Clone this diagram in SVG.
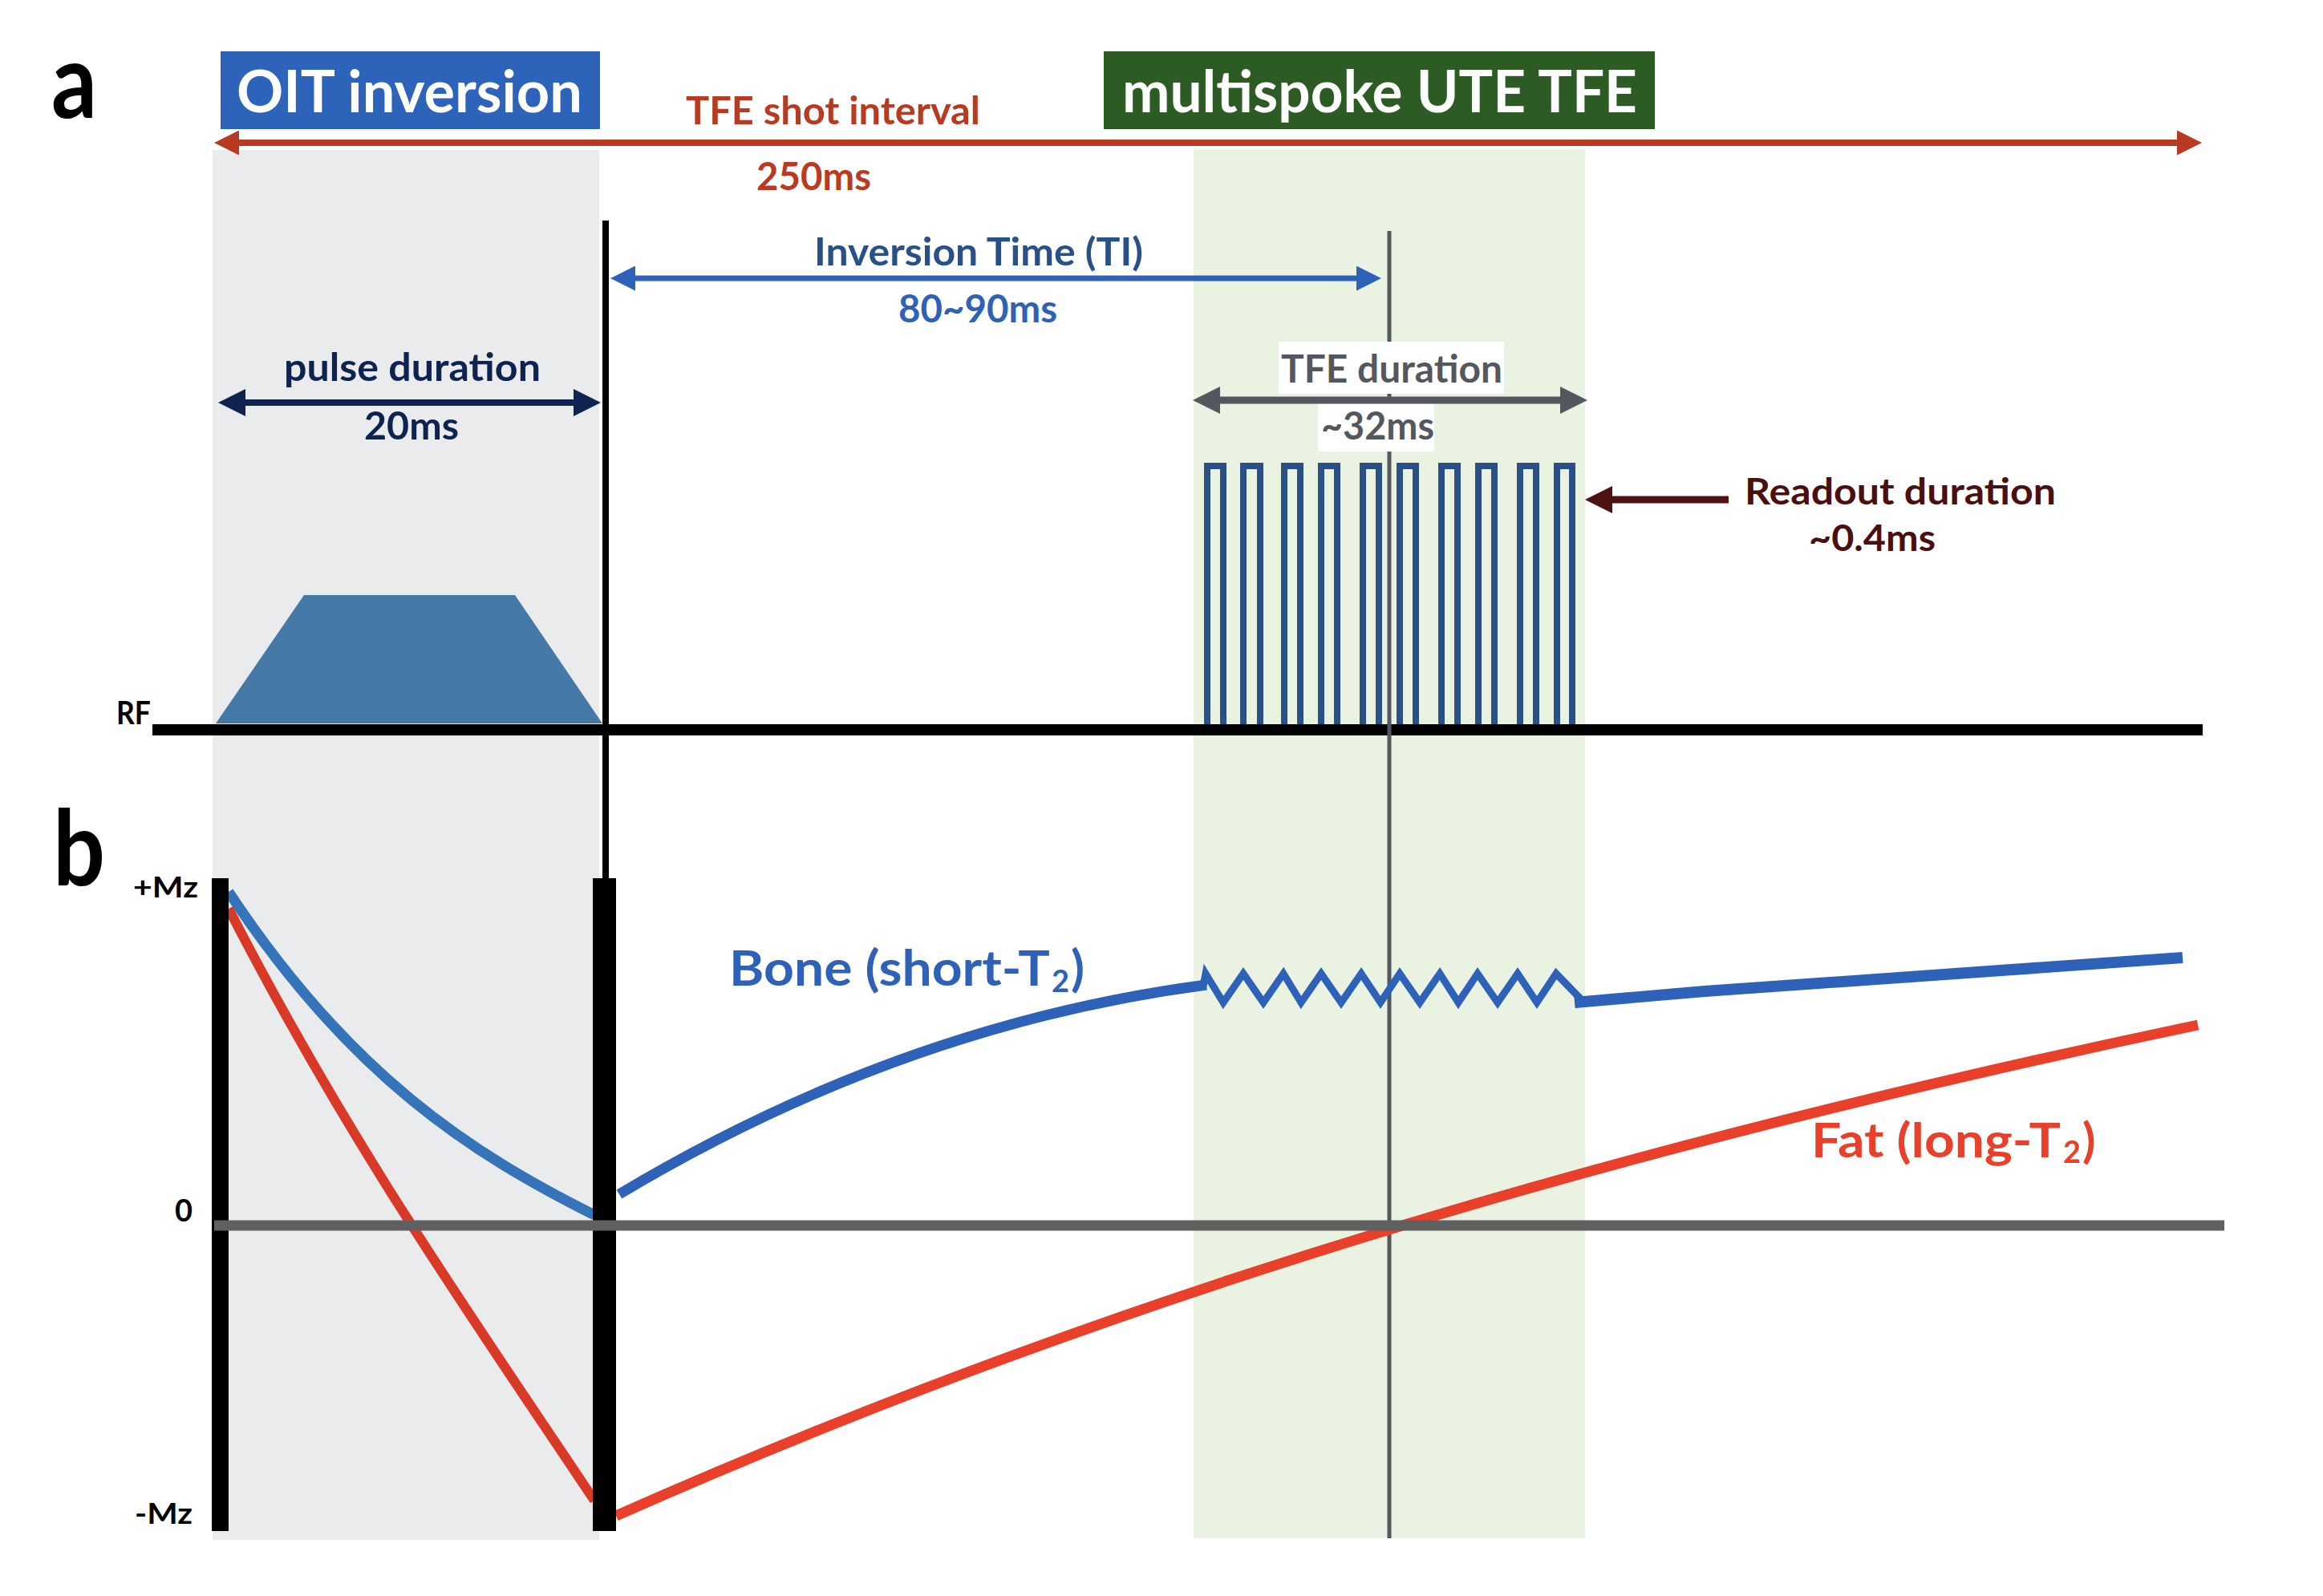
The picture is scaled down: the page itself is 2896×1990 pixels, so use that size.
<svg xmlns="http://www.w3.org/2000/svg" width="2896" height="1990" viewBox="0 0 2896 1990">
<style>
.t{font-family:Lato,"Liberation Sans",sans-serif;font-weight:bold}
.ln{fill:none;stroke-linecap:butt}
</style>
<defs>
<marker id="mRed" markerUnits="userSpaceOnUse" markerWidth="31" markerHeight="31" viewBox="0 0 31 31" refX="0" refY="15.5" orient="auto-start-reverse"><path d="M0,0 L31,15.5 L0,31 z" fill="#B83A21"/></marker>
<marker id="mBlue" markerUnits="userSpaceOnUse" markerWidth="31" markerHeight="31" viewBox="0 0 31 31" refX="0" refY="15.5" orient="auto-start-reverse"><path d="M0,0 L31,15.5 L0,31 z" fill="#2E62B8"/></marker>
<marker id="mNavy" markerUnits="userSpaceOnUse" markerWidth="34" markerHeight="34" viewBox="0 0 34 34" refX="0" refY="17" orient="auto-start-reverse"><path d="M0,0 L34,17 L0,34 z" fill="#0E2350"/></marker>
<marker id="mGray" markerUnits="userSpaceOnUse" markerWidth="34" markerHeight="34" viewBox="0 0 34 34" refX="0" refY="17" orient="auto-start-reverse"><path d="M0,0 L34,17 L0,34 z" fill="#54575E"/></marker>
<marker id="mMaroon" markerUnits="userSpaceOnUse" markerWidth="34" markerHeight="34" viewBox="0 0 34 34" refX="0" refY="17" orient="auto-start-reverse"><path d="M0,0 L34,17 L0,34 z" fill="#4E1212"/></marker>
</defs>
<rect width="2896" height="1990" fill="#ffffff"/>

<g id="regions">
<rect id="oit-region" x="265" y="187" width="482" height="1733" fill="#EAEBED"/>
<rect id="tfe-region" x="1488" y="186" width="488" height="1732" fill="#EAF3E2"/>
</g>

<g id="labels-panel">
<text class="t" x="64" y="147" font-size="130" textLength="57" lengthAdjust="spacingAndGlyphs" fill="#000">a</text>
<text class="t" x="66" y="1104" font-size="130" textLength="65" lengthAdjust="spacingAndGlyphs" fill="#000">b</text>
</g>

<g id="oit-inversion">
<rect x="275" y="64" width="473" height="97" fill="#2D63B8"/>
<text class="t" x="295" y="140" font-size="72" textLength="431" lengthAdjust="spacingAndGlyphs" fill="#fff">OIT inversion</text>
</g>

<g id="multispoke">
<rect x="1376" y="64" width="687" height="97" fill="#2C5B23"/>
<text class="t" x="1399" y="140" font-size="72" textLength="642" lengthAdjust="spacingAndGlyphs" fill="#fff">multispoke UTE TFE</text>
</g>

<g id="shot-interval">
<text class="t" x="855" y="155" font-size="48" textLength="367" lengthAdjust="spacingAndGlyphs" fill="#B83A21">TFE shot interval</text>
<text class="t" x="943" y="237" font-size="48" textLength="143" lengthAdjust="spacingAndGlyphs" fill="#B83A21">250ms</text>
</g>

<g id="rf-axis">
<path d="M269,902 L379,742 L642,742 L751,902 z" fill="#4579A8"/>
<line x1="190" y1="910" x2="2746" y2="910" stroke="#000" stroke-width="14"/>
<text class="t" x="145" y="903" font-size="40" textLength="43" lengthAdjust="spacingAndGlyphs" fill="#000">RF</text>
</g>

<g id="gray-marker-line">
<line x1="1732" y1="288" x2="1732" y2="1918" stroke="#54575E" stroke-width="5"/>
</g>

<g id="readout-pulses">
<path class="ln" stroke="#2A5088" stroke-width="8" stroke-linejoin="miter" d="M1505,903 V581 H1525 V903 M1550,903 V581 H1571 V903 M1601,903 V581 H1621 V903 M1647,903 V581 H1667 V903 M1699,903 V581 H1719 V903 M1745,903 V581 H1765 V903 M1797,903 V581 H1817 V903 M1843,903 V581 H1863 V903 M1895,903 V581 H1915 V903 M1941,903 V581 H1960 V903"/>
</g>

<g id="tfe-duration">
<rect x="1594" y="426" width="281" height="65" fill="#fff"/>
<rect x="1643" y="503" width="145" height="60" fill="#fff"/>
<text class="t" x="1597" y="477" font-size="48" textLength="276" lengthAdjust="spacingAndGlyphs" fill="#54575E">TFE duration</text>
<text class="t" x="1647" y="548" font-size="48" textLength="141" lengthAdjust="spacingAndGlyphs" fill="#54575E">~32ms</text>
</g>

<g id="inversion-time">
<text class="t" x="1015" y="331" font-size="48" textLength="410" lengthAdjust="spacingAndGlyphs" fill="#2A5088">Inversion Time (TI)</text>
<text class="t" x="1120" y="402" font-size="48" textLength="198" lengthAdjust="spacingAndGlyphs" fill="#2E62B8">80~90ms</text>
</g>

<g id="pulse-duration">
<text class="t" x="354" y="475" font-size="48" textLength="320" lengthAdjust="spacingAndGlyphs" fill="#0E2350">pulse duration</text>
<text class="t" x="454" y="548" font-size="48" textLength="118" lengthAdjust="spacingAndGlyphs" fill="#0E2350">20ms</text>
</g>

<g id="readout-duration">
<text class="t" x="2175" y="629" font-size="46" textLength="388" lengthAdjust="spacingAndGlyphs" fill="#4A1010">Readout duration</text>
<text class="t" x="2255" y="687" font-size="46" textLength="158" lengthAdjust="spacingAndGlyphs" fill="#4A1010">~0.4ms</text>
</g>

<g id="curves">
<path class="ln" d="M285,1112 C437,1342 589,1439 741,1515" stroke="#3574B8" stroke-width="13"/>
<path class="ln" d="M285,1133 C437,1429 589,1643 741,1871" stroke="#D93A28" stroke-width="12"/>
<path class="ln" d="M772,1489 C1016,1343 1260,1260 1504,1228" stroke="#2E62B8" stroke-width="13"/>
<polyline class="ln" stroke="#2E62B8" stroke-width="9" stroke-linejoin="miter" points="1500,1230 1503,1214 1525,1250 1550,1214 1575,1250 1600,1214 1622,1250 1647,1214 1672,1250 1697,1214 1721,1250 1745,1214 1770,1250 1795,1214 1818,1250 1842,1214 1867,1250 1892,1214 1916,1250 1940,1214 1971,1246"/>
<polyline class="ln" stroke="#2E62B8" stroke-width="14" points="1963,1250 2125,1236 2721,1194"/>
<path class="ln" d="M768,1890 C1425,1598 2083,1416 2740,1278" stroke="#E8402A" stroke-width="13"/>
</g>

<g id="mz-axes">
<line x1="755" y1="275" x2="755" y2="1095" stroke="#000" stroke-width="8"/>
<rect x="264" y="1095" width="21" height="814" fill="#000"/>
<rect x="739" y="1095" width="29" height="814" fill="#000"/>
<line x1="267" y1="1528" x2="2773" y2="1528" stroke="#606060" stroke-width="13"/>
<text class="t" x="166" y="1119" font-size="36" textLength="81" lengthAdjust="spacingAndGlyphs" fill="#000">+Mz</text>
<text class="t" x="218" y="1523" font-size="38" textLength="22" lengthAdjust="spacingAndGlyphs" fill="#000">0</text>
<text class="t" x="168" y="1900" font-size="36" textLength="72" lengthAdjust="spacingAndGlyphs" fill="#000">-Mz</text>
</g>

<g id="bone-label">
<text class="t" font-size="62" fill="#2E62B8"><tspan x="909" y="1229" textLength="400" lengthAdjust="spacingAndGlyphs">Bone (short-T</tspan><tspan x="1311" y="1237" font-size="38">2</tspan><tspan x="1335" y="1229">)</tspan></text>
</g>

<g id="fat-label">
<text class="t" font-size="60" fill="#E8402A"><tspan x="2258" y="1443" textLength="311" lengthAdjust="spacingAndGlyphs">Fat (long-T</tspan><tspan x="2572" y="1450" font-size="38">2</tspan><tspan x="2596" y="1443">)</tspan></text>
</g>

<g id="connectors">
<line class="ln" x1="298" y1="178" x2="2714" y2="178" stroke="#B83A21" stroke-width="8" marker-start="url(#mRed)" marker-end="url(#mRed)"/>
<line class="ln" x1="792" y1="347" x2="1691" y2="347" stroke="#2E62B8" stroke-width="7" marker-start="url(#mBlue)" marker-end="url(#mBlue)"/>
<line class="ln" x1="306" y1="502" x2="715" y2="502" stroke="#0E2350" stroke-width="8" marker-start="url(#mNavy)" marker-end="url(#mNavy)"/>
<line class="ln" x1="1521" y1="499" x2="1945" y2="499" stroke="#54575E" stroke-width="9" marker-start="url(#mGray)" marker-end="url(#mGray)"/>
<line class="ln" x1="2155" y1="623" x2="2010" y2="623" stroke="#4E1212" stroke-width="9" marker-end="url(#mMaroon)"/>
</g>
</svg>
